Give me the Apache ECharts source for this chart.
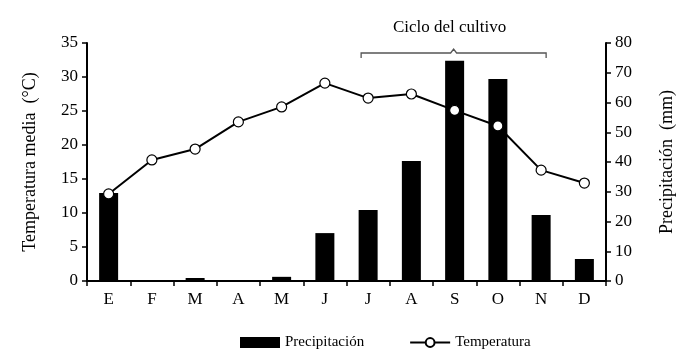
<!DOCTYPE html>
<html><head><meta charset="utf-8">
<script src="https://cdn.jsdelivr.net/npm/echarts@6/dist/echarts.min.js"></script>
<style>html,body{margin:0;padding:0;background:#fff}#c{width:700px;height:359px}</style>
</head><body><div id="c"></div>
<script>
const months = ['E','F','M','A','M','J','J','A','S','O','N','D'];
const precipitacion = [29.6, 0, 1.0, 0, 1.4, 16.1, 23.9, 40.3, 74.0, 67.9, 22.2, 7.4];
const temperatura = [12.8, 17.8, 19.4, 23.4, 25.6, 29.1, 26.9, 27.5, 25.1, 22.8, 16.3, 14.4];
const tempTicks = [0, 35, 5];
const precTicks = [0, 80, 10];
const cicloStart = 6, cicloEnd = 10;

const font = '"Liberation Serif", "Times New Roman", serif';
const chart = echarts.init(document.getElementById('c'));
const axisLine = {show: true, lineStyle: {color: '#000', width: 2}};
chart.setOption({
  animation: false,
  textStyle: {fontFamily: font, color: '#000'},
  grid: {left: 87, right: 94, top: 43, bottom: 78},
  legend: {
    top: 330, left: 235, itemGap: 45,
    textStyle: {fontFamily: font, fontSize: 15, color: '#000'},
    data: [
      {name: 'Precipitación', icon: 'rect', itemStyle: {color: '#000'}},
      {name: 'Temperatura'}
    ],
    itemWidth: 40, itemHeight: 11
  },
  xAxis: {
    type: 'category', data: months,
    axisLine: axisLine,
    axisTick: {show: true, lineStyle: {color: '#000', width: 1.5}, length: 5},
    axisLabel: {fontFamily: font, fontSize: 17, color: '#000', margin: 10}
  },
  yAxis: [
    {type: 'value', min: tempTicks[0], max: tempTicks[1], interval: tempTicks[2],
     name: 'Temperatura media  (°C)', nameLocation: 'middle', nameGap: 48,
     nameTextStyle: {fontFamily: font, fontSize: 18, color: '#000'},
     axisLine: axisLine, axisTick: {show: true, length: 5, lineStyle: {color: '#000', width: 1.5}},
     axisLabel: {fontFamily: font, fontSize: 17, color: '#000', margin: 9},
     splitLine: {show: false}},
    {type: 'value', min: precTicks[0], max: precTicks[1], interval: precTicks[2], position: 'right',
     name: 'Precipitación  (mm)', nameLocation: 'middle', nameGap: 52, nameRotate: 90,
     nameTextStyle: {fontFamily: font, fontSize: 18, color: '#000'},
     axisLine: axisLine, axisTick: {show: true, length: 5, lineStyle: {color: '#000', width: 1.5}},
     axisLabel: {fontFamily: font, fontSize: 17, color: '#000', margin: 9},
     splitLine: {show: false}}
  ],
  series: [
    {name: 'Precipitación', type: 'bar', yAxisIndex: 1, data: precipitacion,
     barWidth: 19, itemStyle: {color: '#000'}},
    {name: 'Temperatura', type: 'line', yAxisIndex: 0, data: temperatura,
     symbol: 'circle', symbolSize: 10, z: 5,
     lineStyle: {color: '#000', width: 2},
     itemStyle: {color: '#fff', borderColor: '#000', borderWidth: 1.2}}
  ]
});
const p1 = chart.convertToPixel({xAxisIndex: 0}, cicloStart);
const p2 = chart.convertToPixel({xAxisIndex: 0}, cicloEnd);
const x1 = p1 - 7, x2 = p2 + 5, yb = 53, mid = (x1 + x2) / 2;
chart.setOption({
  graphic: [
    {type: 'polyline', shape: {points: [[x1, yb + 5], [x1, yb], [mid - 3, yb], [mid, yb - 4], [mid + 3, yb], [x2, yb], [x2, yb + 5]]},
     style: {stroke: '#555', lineWidth: 1.3, fill: null}},
    {type: 'text', x: mid - 4, y: 28, style: {text: 'Ciclo del cultivo', font: '17px ' + font, fill: '#000', align: 'center', verticalAlign: 'middle'}}
  ]
});
</script></body></html>
